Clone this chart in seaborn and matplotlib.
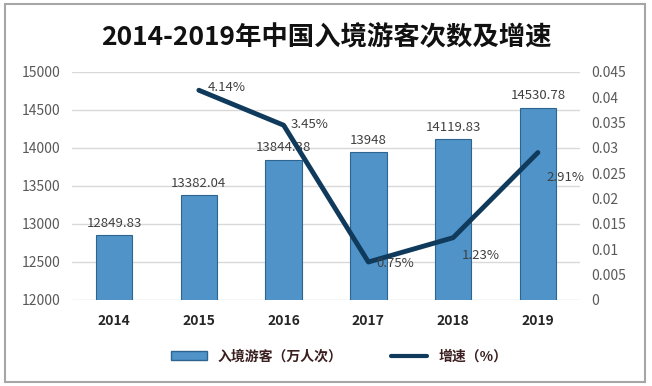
import matplotlib
matplotlib.use("Agg")
import matplotlib.pyplot as plt
import seaborn as sns
import pandas as pd
from matplotlib.patches import Rectangle
from matplotlib.lines import Line2D
from matplotlib.patches import Patch

years = ["2014", "2015", "2016", "2017", "2018", "2019"]
visitors = [12849.83, 13382.04, 13844.38, 13948, 14119.83, 14530.78]
visitor_labels = ["12849.83", "13382.04", "13844.38", "13948", "14119.83", "14530.78"]
growth_years = ["2015", "2016", "2017", "2018", "2019"]
growth = [0.0414, 0.0345, 0.0075, 0.0123, 0.0291]
growth_labels = ["4.14%", "3.45%", "0.75%", "1.23%", "2.91%"]

sns.set_theme(style="white")
plt.rcParams['font.family'] = ['Noto Sans CJK SC', 'DejaVu Sans']

fig = plt.figure(figsize=(6.52, 3.86), dpi=100)
ax = fig.add_axes([0.110, 0.2228, 0.780, 0.5907])

df = pd.DataFrame({"year": years, "visitors": visitors})
sns.barplot(data=df, x="year", y="visitors", ax=ax, color="#4f93c8",
            width=0.43, edgecolor="#2e6590", linewidth=0.8, saturation=1)
ax.set_ylim(12000, 15000)
ax.set_xlim(-0.5, 5.5)
ax.set_yticks(range(12000, 15001, 500))
ax.yaxis.grid(True, color="#d9d9d9", linewidth=1)
ax.set_axisbelow(True)
for s in ax.spines.values():
    s.set_visible(False)
ax.set_xlabel("")
ax.set_ylabel("")
ax.tick_params(axis="y", colors="#595959", labelsize=10, length=0, pad=8)
ax.tick_params(axis="x", length=0, pad=10)
for t in ax.get_xticklabels():
    t.set_fontweight("bold")
    t.set_fontsize(10)
    t.set_color("#262626")

for i, (v, lab) in enumerate(zip(visitors, visitor_labels)):
    ax.text(i, v + 70, lab, ha="center", va="bottom", fontsize=9.5, color="#404040")

ax2 = ax.twinx()
xpos = [years.index(y) for y in growth_years]
gdf = pd.DataFrame({"x": xpos, "g": growth})
sns.lineplot(data=gdf, x="x", y="g", ax=ax2, color="#0f3a5c", linewidth=3.5)
ax2.set_ylim(0, 0.045)
ax2.set_xlim(-0.5, 5.5)
ax2.set_yticks([0, 0.005, 0.01, 0.015, 0.02, 0.025, 0.03, 0.035, 0.04, 0.045])
ax2.set_yticklabels(["0", "0.005", "0.01", "0.015", "0.02", "0.025", "0.03", "0.035", "0.04", "0.045"])
ax2.tick_params(axis="y", colors="#595959", labelsize=10, length=0, pad=8)
ax2.set_ylabel("")
ax2.set_xlabel("")
for s in ax2.spines.values():
    s.set_visible(False)

offsets = [(0.1, 0.0006, "left", "center"),
           (0.08, 0.0001, "left", "center"),
           (0.1, -0.0003, "left", "center"),
           (0.1, -0.0035, "left", "center"),
           (0.1, -0.0050, "left", "center")]
for x, g, lab, (dx, dy, ha, va) in zip(xpos, growth, growth_labels, offsets):
    ax2.text(x + dx, g + dy, lab, ha=ha, va=va, fontsize=9.5, color="#404040")

fig.text(0.5, 0.905, "2014-2019年中国入境游客次数及增速", ha="center", va="center",
         fontsize=19, fontweight="bold", color="#111111")

handles = [Patch(facecolor="#4f93c8", edgecolor="#2e6590"),
           Line2D([0], [0], color="#0f3a5c", linewidth=3)]
leg = fig.legend(handles, ["入境游客（万人次）", "增速（%）"], loc="center",
                 bbox_to_anchor=(0.52, 0.077), ncol=2, frameon=False,
                 fontsize=10, handlelength=2.6, handleheight=0.6, columnspacing=3.5)
for t in leg.get_texts():
    t.set_fontweight("bold")
    t.set_color("#3a1f1f")

fig.patches.append(Rectangle((5 / 652, 4 / 386), 640 / 652, 378 / 386,
                             transform=fig.transFigure, fill=False,
                             edgecolor="#a6a6a6", linewidth=1.5))

fig.savefig("out.png", dpi=100)
